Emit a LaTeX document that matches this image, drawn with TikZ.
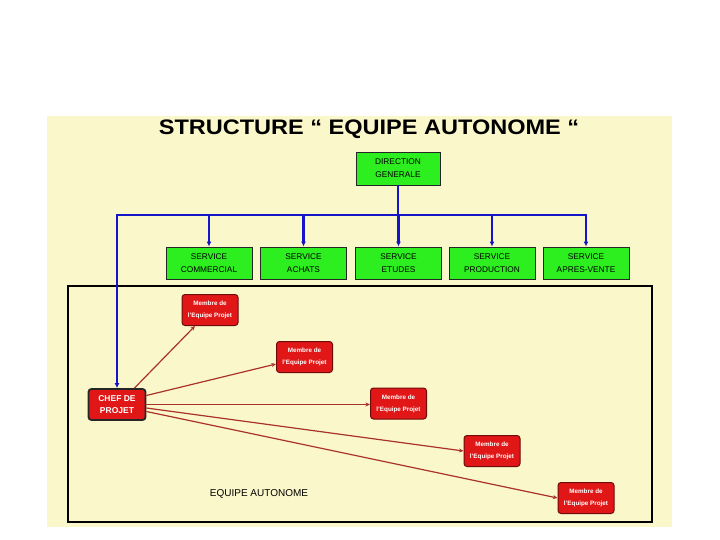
\documentclass[tikz,border=0pt]{standalone}
\usepackage{fontspec}
\setmainfont{Liberation Sans}
\usetikzlibrary{arrows.meta}
\definecolor{bgyellow}{RGB}{250,247,202}
\definecolor{boxgreen}{RGB}{45,238,30}
\definecolor{boxred}{RGB}{225,22,22}
\definecolor{darkred}{RGB}{110,12,12}
\definecolor{linkred}{RGB}{170,50,45}
\definecolor{busblue}{RGB}{20,20,200}
\begin{document}
\begin{tikzpicture}[x=1pt,y=-1pt,
  gbox/.style={draw=black!85, line width=0.9pt, fill=boxgreen, minimum width=86pt,
    minimum height=32pt, inner sep=0pt, align=center, font=\fontsize{8.3}{13}\selectfont},
  mbox/.style={draw=darkred, line width=1pt, fill=boxred, rounded corners=3pt,
    minimum width=56pt, minimum height=31pt, inner sep=0pt, align=center,
    text=white, font=\bfseries\fontsize{6.3}{12}\selectfont},
  chefbox/.style={draw=black!85, line width=1.8pt, fill=boxred, rounded corners=3pt,
    minimum width=57pt, minimum height=31pt, inner sep=0pt, align=center,
    text=white, font=\bfseries\fontsize{8.5}{12}\selectfont},
  bus/.style={draw=busblue, line width=2.5pt},
  busarrow/.style={bus, -{Latex[length=5pt,width=5pt]}},
  link/.style={draw=linkred, line width=1.2pt, -{Stealth[length=4.5pt,width=4pt]}}]
\useasboundingbox (0,0) rectangle (720,540);
\fill[bgyellow] (47,116) rectangle (672,527);
\draw[line width=1.2pt] (68,286) rectangle (652,522);

\node[font=\bfseries\fontsize{21}{26}\selectfont\addfontfeature{FakeStretch=1.12}] (title) at (369,129)
  {STRUCTURE “ EQUIPE AUTONOME “};

\node[gbox, minimum width=84pt, minimum height=33pt] (dg) at (398,168.5) {DIRECTION\\GENERALE};
\node[gbox] (s1) at (209,263) {SERVICE\\COMMERCIAL};
\node[gbox] (s2) at (303.5,263) {SERVICE\\ACHATS};
\node[gbox] (s3) at (398.5,263) {SERVICE\\ETUDES};
\node[gbox] (s4) at (492,263) {SERVICE\\PRODUCTION};
\node[gbox] (s5) at (586,263) {SERVICE\\APRES-VENTE};

\node[chefbox] (chef) at (117,404.5) {CHEF DE\\PROJET};
\node[mbox] (m1) at (210,310) {Membre de\\l'Equipe Projet};
\node[mbox] (m2) at (304.5,357) {Membre de\\l'Equipe Projet};
\node[mbox] (m3) at (398.5,403.5) {Membre de\\l'Equipe Projet};
\node[mbox] (m4) at (492,451) {Membre de\\l'Equipe Projet};
\node[mbox] (m5) at (586,498) {Membre de\\l'Equipe Projet};

\node[font=\fontsize{10}{12}\selectfont] (lbl) at (259,494) {EQUIPE AUTONOME};

\coordinate (busL) at (117,215);
\coordinate (busR) at (586,215);
\draw[bus] (dg.south) -- (dg.south |- busL);
\draw[bus] ([xshift=-1.25pt]busL) -- ([xshift=1.25pt]busR);
\foreach \s in {s1,s2,s3,s4,s5}
  \draw[busarrow] (\s.north |- busL) -- (\s.north);
\draw[busarrow] (busL) -- (chef.north);

\draw[link] ([xshift=-12pt]chef.north east) -- ([xshift=-15pt]m1.south);
\draw[link] ([yshift=9pt]chef.east) -- ([yshift=-7pt]m2.west);
\draw[link] (chef.east) -- (chef.east -| m3.west);
\draw[link] ([yshift=-3.5pt]chef.east) -- (m4.west);
\draw[link] ([yshift=-7pt]chef.east) -- (m5.west);
\end{tikzpicture}
\end{document}
